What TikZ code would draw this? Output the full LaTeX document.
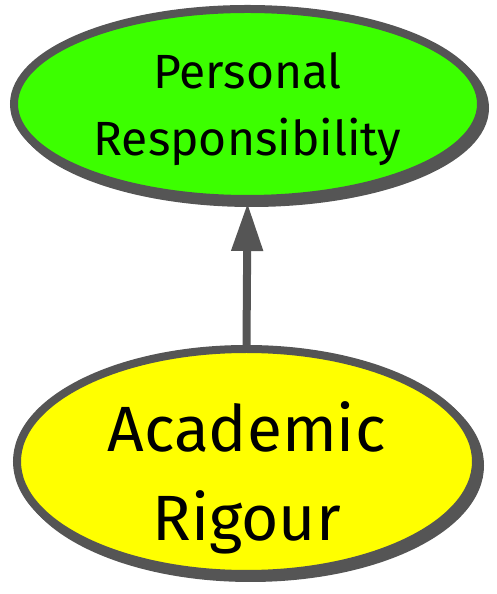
\documentclass[tikz,border=0pt]{standalone}
\usepackage{fontspec}
\setmainfont{Fira Sans}
\usetikzlibrary{shapes.geometric,arrows.meta,shadows}
\definecolor{bordergray}{HTML}{555555}
\definecolor{goalgreen}{HTML}{3CFF00}
\definecolor{goalyellow}{HTML}{FFFF00}
\tikzset{
  goal/.style={ellipse, draw=bordergray, line width=8pt,
    copy shadow={shadow xshift=4pt, shadow yshift=-4pt}},
  goaltext/.style={align=center, text=black},
  link/.style={draw=bordergray, line width=8pt, -{Triangle[length=48pt,width=30pt]}}
}
\begin{document}
\begin{tikzpicture}[x=1pt,y=1pt]
    \useasboundingbox (0,0) rectangle (497,594);

    % Draw the goals
    \node[goal, fill=goalgreen, minimum width=467pt, minimum height=190pt,
      label={[goaltext, font=\fontsize{48}{67}\selectfont, yshift=-5pt]center:Personal\\Responsibility}]
      (personal) at (247.5,490) {};
    \node[goal, fill=goalyellow, minimum width=459pt, minimum height=225pt,
      label={[goaltext, font=\fontsize{64}{89}\selectfont, yshift=-16pt]center:Academic\\Rigour}]
      (academic) at (246.5,132.5) {};

    % Draw the link
    \draw[link] (academic.north) -- (personal.south);
\end{tikzpicture}
\end{document}
